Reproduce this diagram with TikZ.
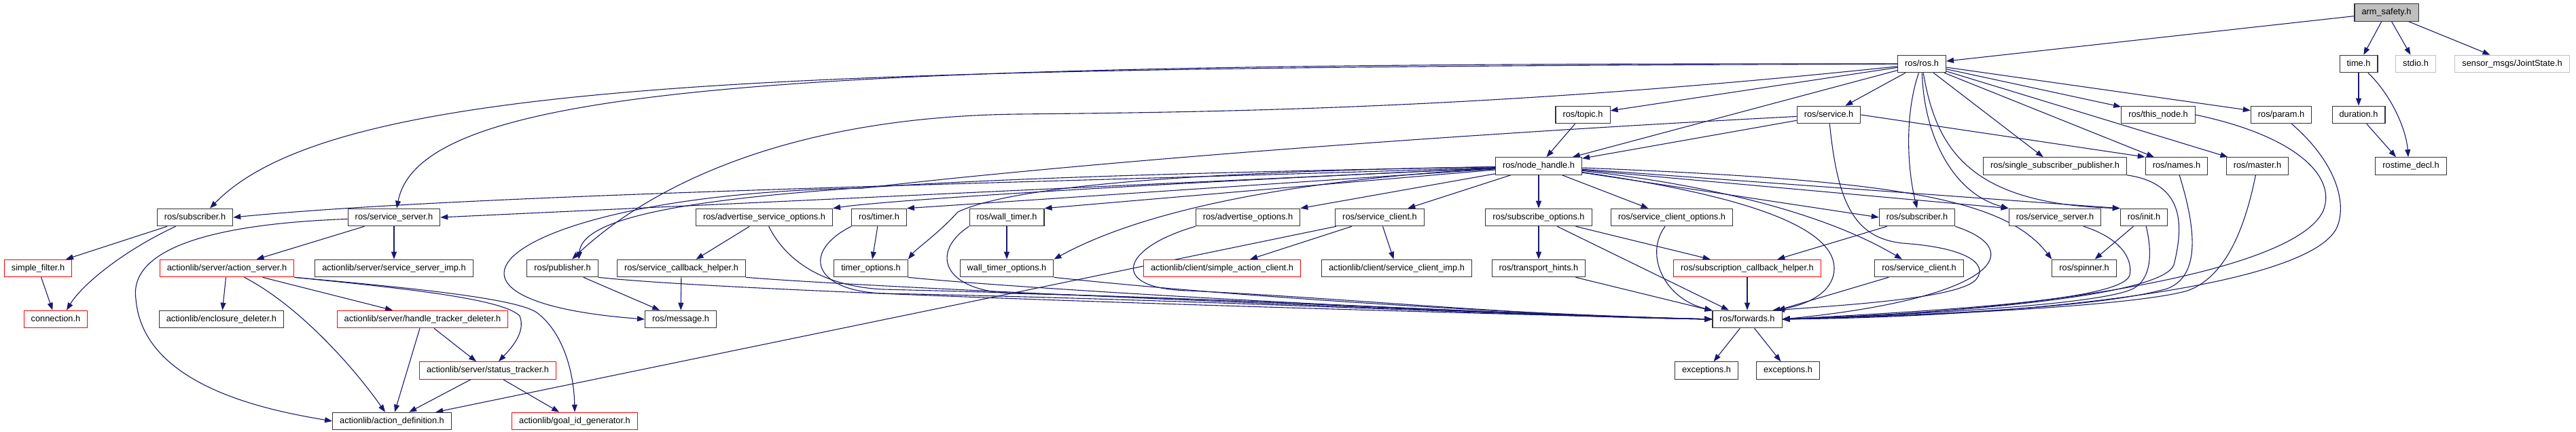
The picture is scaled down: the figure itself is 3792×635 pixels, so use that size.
\documentclass[tikz,border=0pt]{standalone}
\usepackage{fontspec}
\setmainfont{Liberation Sans}
\usetikzlibrary{arrows.meta}
\definecolor{edgeblue}{HTML}{191970}
\definecolor{lgray}{HTML}{BFBFBF}
\pgfdeclarelayer{bg}
\pgfsetlayers{bg,main}
\begin{document}
\begin{tikzpicture}[x=1pt,y=-1pt,
  box/.style={draw=black!80,line width=1.1pt,fill=white,minimum height=25.5pt,inner xsep=10.5pt,inner ysep=0pt,text height=9.3pt,text depth=2.6pt,font=\fontsize{12.8}{14}\selectfont},
  redbox/.style={box,draw=red},
  greybox/.style={box,draw=lgray},
  rootbox/.style={box,fill=lgray},
  arr/.style={draw=edgeblue,line width=1.1pt,-{Triangle[length=11pt,width=8pt]}}]
\useasboundingbox (0,0) rectangle (3792,635);
% row 0-3
\node[rootbox] (arm) at (3513,18.4) {arm\_safety.h};
\node[box] (ros) at (2829,94) {ros/ros.h};
\node[box] (time) at (3472,94) {time.h};
\node[greybox] (stdio) at (3556,94) {stdio.h};
\node[greybox] (jstate) at (3698,94) {sensor\_msgs/JointState.h};
\node[box] (topic) at (2330,169) {ros/topic.h};
\node[box] (service) at (2692,169) {ros/service.h};
\node[box] (thisnode) at (3177,169) {ros/this\_node.h};
\node[box] (param) at (3358,169) {ros/param.h};
\node[box] (duration) at (3472,169) {duration.h};
\node[box] (nh) at (2265,244.5) {ros/node\_handle.h};
\node[box] (ssp) at (3025,244.5) {ros/single\_subscriber\_publisher.h};
\node[box] (names) at (3204,244.5) {ros/names.h};
\node[box] (master) at (3323,244.5) {ros/master.h};
\node[box] (rostime) at (3549,244.5) {rostime\_decl.h};
% row 4
\node[box] (subL) at (287,320) {ros/subscriber.h};
\node[box] (ssL) at (580,320) {ros/service\_server.h};
\node[box] (aso) at (1125,320) {ros/advertise\_service\_options.h};
\node[box] (timer) at (1294,320) {ros/timer.h};
\node[box] (wtimer) at (1482,320) {ros/wall\_timer.h};
\node[box] (advo) at (1837,320) {ros/advertise\_options.h};
\node[box] (scL) at (2031,320) {ros/service\_client.h};
\node[box] (subo) at (2265,320) {ros/subscribe\_options.h};
\node[box] (sco) at (2461,320) {ros/service\_client\_options.h};
\node[box] (subR) at (2822,320) {ros/subscriber.h};
\node[box] (ssR) at (3025,320) {ros/service\_server.h};
\node[box] (init) at (3156,320) {ros/init.h};
% row 5
\node[redbox] (sfilter) at (56,395) {simple\_filter.h};
\node[redbox] (aserver) at (334,395) {actionlib/server/action\_server.h};
\node[box] (ssimp) at (580,395) {actionlib/server/service\_server\_imp.h};
\node[box] (pub) at (828,395) {ros/publisher.h};
\node[box] (sch) at (1003,395) {ros/service\_callback\_helper.h};
\node[box] (topt) at (1282,395) {timer\_options.h};
\node[box] (wtopt) at (1482,395) {wall\_timer\_options.h};
\node[redbox] (sac) at (1799,395) {actionlib/client/simple\_action\_client.h};
\node[box] (scimp) at (2056,395) {actionlib/client/service\_client\_imp.h};
\node[box] (th) at (2265,395) {ros/transport\_hints.h};
\node[redbox] (subcb) at (2572,395) {ros/subscription\_callback\_helper.h};
\node[box] (scR) at (2825,395) {ros/service\_client.h};
\node[box] (spinner) at (3068,395) {ros/spinner.h};
% row 6-8
\node[redbox] (conn) at (82,470) {connection.h};
\node[box] (encl) at (326,470) {actionlib/enclosure\_deleter.h};
\node[redbox] (htd) at (622,470) {actionlib/server/handle\_tracker\_deleter.h};
\node[box] (msg) at (1002,470) {ros/message.h};
\node[box] (fwd) at (2572,470) {ros/forwards.h};
\node[redbox] (stracker) at (718,545.5) {actionlib/server/status\_tracker.h};
\node[box] (excL) at (2512,545.5) {exceptions.h};
\node[box] (excR) at (2632,545.5) {exceptions.h};
\node[box] (adef) at (577,620) {actionlib/action\_definition.h};
\node[redbox] (goalid) at (846,620) {actionlib/goal\_id\_generator.h};

\begin{pgfonlayer}{bg}
% top
\draw[arr] (arm) -- (ros);
\draw[arr] (arm) -- (time);
\draw[arr] (arm) -- (stdio);
\draw[arr] (arm) -- (jstate);
\draw[arr] (time) -- (duration);
\draw[arr] (time) .. controls (3520,140) and (3542,190) .. ([xshift=-4pt]rostime.north);
\draw[arr] (duration) -- ([xshift=-22pt]rostime.north);
% ros.h
\draw[arr] (ros) -- (service);
\draw[arr] (ros) -- (topic);
\draw[arr] (ros) -- (nh);
\draw[arr] (ros) -- (thisnode);
\draw[arr] (ros) -- (param);
\draw[arr] (ros) -- (master);
\draw[arr] (ros) -- (names);
\draw[arr] (ros) -- (ssp);
\draw[arr] (ros) .. controls (2803,170) and (2808,250) .. (subR.north);
\draw[arr] (ros) .. controls (2832,200) and (2875,285) .. (ssR.north west);
\draw[arr] (ros) .. controls (2850,220) and (2900,300) .. (init.north west);
\draw[arr] (ros) .. controls (1200,100) and (500,110) .. ([xshift=22pt]subL.north);
\draw[arr] (ros) .. controls (1200,92) and (620,120) .. ([xshift=4pt]ssL.north);
\draw[arr] (ros) .. controls (2200,160) and (1800,165) .. (1500,168) .. controls (1150,172) and (950,280) .. ([xshift=14pt]pub.north);
% topic, service
\draw[arr] (topic) -- (nh);
\draw[arr] (service) -- (nh);
\draw[arr] (service.east) -- (names.north west);
\draw[arr] (service) .. controls (2000,205) and (1500,250) .. (1270,277) .. controls (760,285) and (560,440) .. (msg.west);
\draw[arr] (service) .. controls (2705,300) and (2730,350) .. (2800,358) .. controls (2900,365) and (2925,390) .. (2910,410) .. controls (2890,440) and (2700,450) .. ([xshift=-8pt]fwd.north east);
% node_handle
\draw[arr] (nh) .. controls (1500,270) and (700,285) .. (subL.east);
\draw[arr] (nh) -- (ssL.east);
\draw[arr] (nh) .. controls (1300,262) and (860,285) .. ([xshift=24pt]pub.north);
\draw[arr] (nh) .. controls (1700,270) and (1300,295) .. (aso.north east);
\draw[arr] (nh) -- (timer.north east);
\draw[arr] (nh) .. controls (1800,252) and (1500,270) .. (1410,312) .. controls (1380,345) and (1350,365) .. (topt.north east);
\draw[arr] (nh) -- (wtimer.north east);
\draw[arr] (nh) .. controls (1950,262) and (1700,300) .. (wtopt.north east);
\draw[arr] (nh) -- (advo.north east);
\draw[arr] (nh) -- (scL);
\draw[arr] (nh) -- (subo);
\draw[arr] (nh) -- (sco);
\draw[arr] (nh) -- (subR.west);
\draw[arr] (nh) -- (ssR.north west);
\draw[arr] (nh) -- (init.north west);
\draw[arr] (nh) .. controls (2500,270) and (2680,310) .. ([xshift=-25pt]scR.north);
\draw[arr] (nh) .. controls (2780,265) and (2950,290) .. (spinner.north west);
\draw[arr] (nh) .. controls (2550,285) and (2700,330) .. (2700,395) .. controls (2700,430) and (2660,450) .. ([xshift=-14pt]fwd.north east);
% left group
\draw[arr] (subL) -- (sfilter);
\draw[arr] (subL) .. controls (180,370) and (120,420) .. ([xshift=16pt]conn.north);
\draw[arr] (sfilter) -- (conn);
\draw[arr] (ssL) -- (aserver);
\draw[arr] (ssL) -- (ssimp);
\draw[arr] (ssL) .. controls (300,330) and (190,370) .. (200,440) .. controls (210,570) and (400,605) .. (adef.west);
\draw[arr] (aserver) -- (encl);
\draw[arr] (aserver) .. controls (440,450) and (520,540) .. ([xshift=-10pt]adef.north);
\draw[arr] (aserver) -- ([xshift=-44pt]htd.north);
\draw[arr] (aserver.south east) .. controls (600,425) and (740,440) .. (765,465) .. controls (775,490) and (750,515) .. ([xshift=16pt]stracker.north);
\draw[arr] (aserver.south east) .. controls (620,425) and (760,440) .. (790,460) .. controls (830,490) and (845,550) .. (goalid.north);
\draw[arr] (htd) -- (stracker);
\draw[arr] (htd) -- (adef);
\draw[arr] (stracker) -- (adef);
\draw[arr] (stracker) -- (goalid);
% middle
\draw[arr] (scL) -- (adef);
\draw[arr] (scL) -- (sac);
\draw[arr] (scL) -- (scimp);
\draw[arr] (pub) -- (msg);
\draw[arr] (pub.south east) .. controls (1100,432) and (2100,460) .. (fwd.west);
\draw[arr] (sch) -- (msg);
\draw[arr] (sch.south east) .. controls (1300,425) and (2200,462) .. (fwd.west);
\draw[arr] (aso) -- (sch);
\draw[arr] (aso) .. controls (1160,390) and (1220,422) .. (1300,426) .. controls (1800,438) and (2250,464) .. (fwd.west);
\draw[arr] (timer) -- (topt);
\draw[arr] (timer.south west) .. controls (1180,370) and (1195,428) .. (1300,432) .. controls (1800,442) and (2250,466) .. (fwd.west);
\draw[arr] (topt.south east) .. controls (1500,425) and (2100,460) .. (fwd.west);
\draw[arr] (wtimer) -- (wtopt);
\draw[arr] (wtimer.south west) .. controls (1370,370) and (1385,428) .. (1490,432) .. controls (1900,442) and (2250,466) .. (fwd.west);
\draw[arr] (wtopt.south east) .. controls (1750,430) and (2150,460) .. (fwd.west);
\draw[arr] (advo.south west) .. controls (1650,365) and (1630,425) .. (1750,428) .. controls (2000,440) and (2250,466) .. (fwd.west);
\draw[arr] (subo) -- (th);
\draw[arr] (subo) -- (fwd);
\draw[arr] (subo) -- (subcb);
\draw[arr] (th) -- (fwd);
\draw[arr] (sco) .. controls (2420,375) and (2450,440) .. (fwd.north west);
\draw[arr] (subcb) -- (fwd);
% right group
\draw[arr] (subR) -- (subcb);
\draw[arr] (subR.south east) .. controls (2990,370) and (2930,440) .. (fwd.east);
\draw[arr] (scR) -- (fwd);
\draw[arr] (ssR) .. controls (3120,350) and (3140,380) .. (3135,405) .. controls (3125,440) and (2900,455) .. (fwd.east);
\draw[arr] (init) -- (spinner);
\draw[arr] (init) .. controls (3168,370) and (3168,410) .. (3140,425) .. controls (3100,445) and (2900,460) .. (fwd.east);
\draw[arr] (names) .. controls (3240,360) and (3230,410) .. (3190,425) .. controls (3100,450) and (2900,462) .. (fwd.east);
\draw[arr] (master) .. controls (3300,360) and (3265,412) .. (3220,428) .. controls (3150,448) and (2900,463) .. (fwd.east);
\draw[arr] (ssp.south east) .. controls (3215,270) and (3215,330) .. (3200,390) .. controls (3185,430) and (2950,458) .. (fwd.east);
\draw[arr] (thisnode.east) .. controls (3380,200) and (3440,260) .. (3420,310) .. controls (3380,400) and (3000,460) .. (fwd.east);
\draw[arr] (param) .. controls (3440,240) and (3455,300) .. (3440,335) .. controls (3400,420) and (3000,466) .. (fwd.east);
\draw[arr] (fwd) -- (excL);
\draw[arr] (fwd) -- (excR);
\end{pgfonlayer}
\end{tikzpicture}
\end{document}
